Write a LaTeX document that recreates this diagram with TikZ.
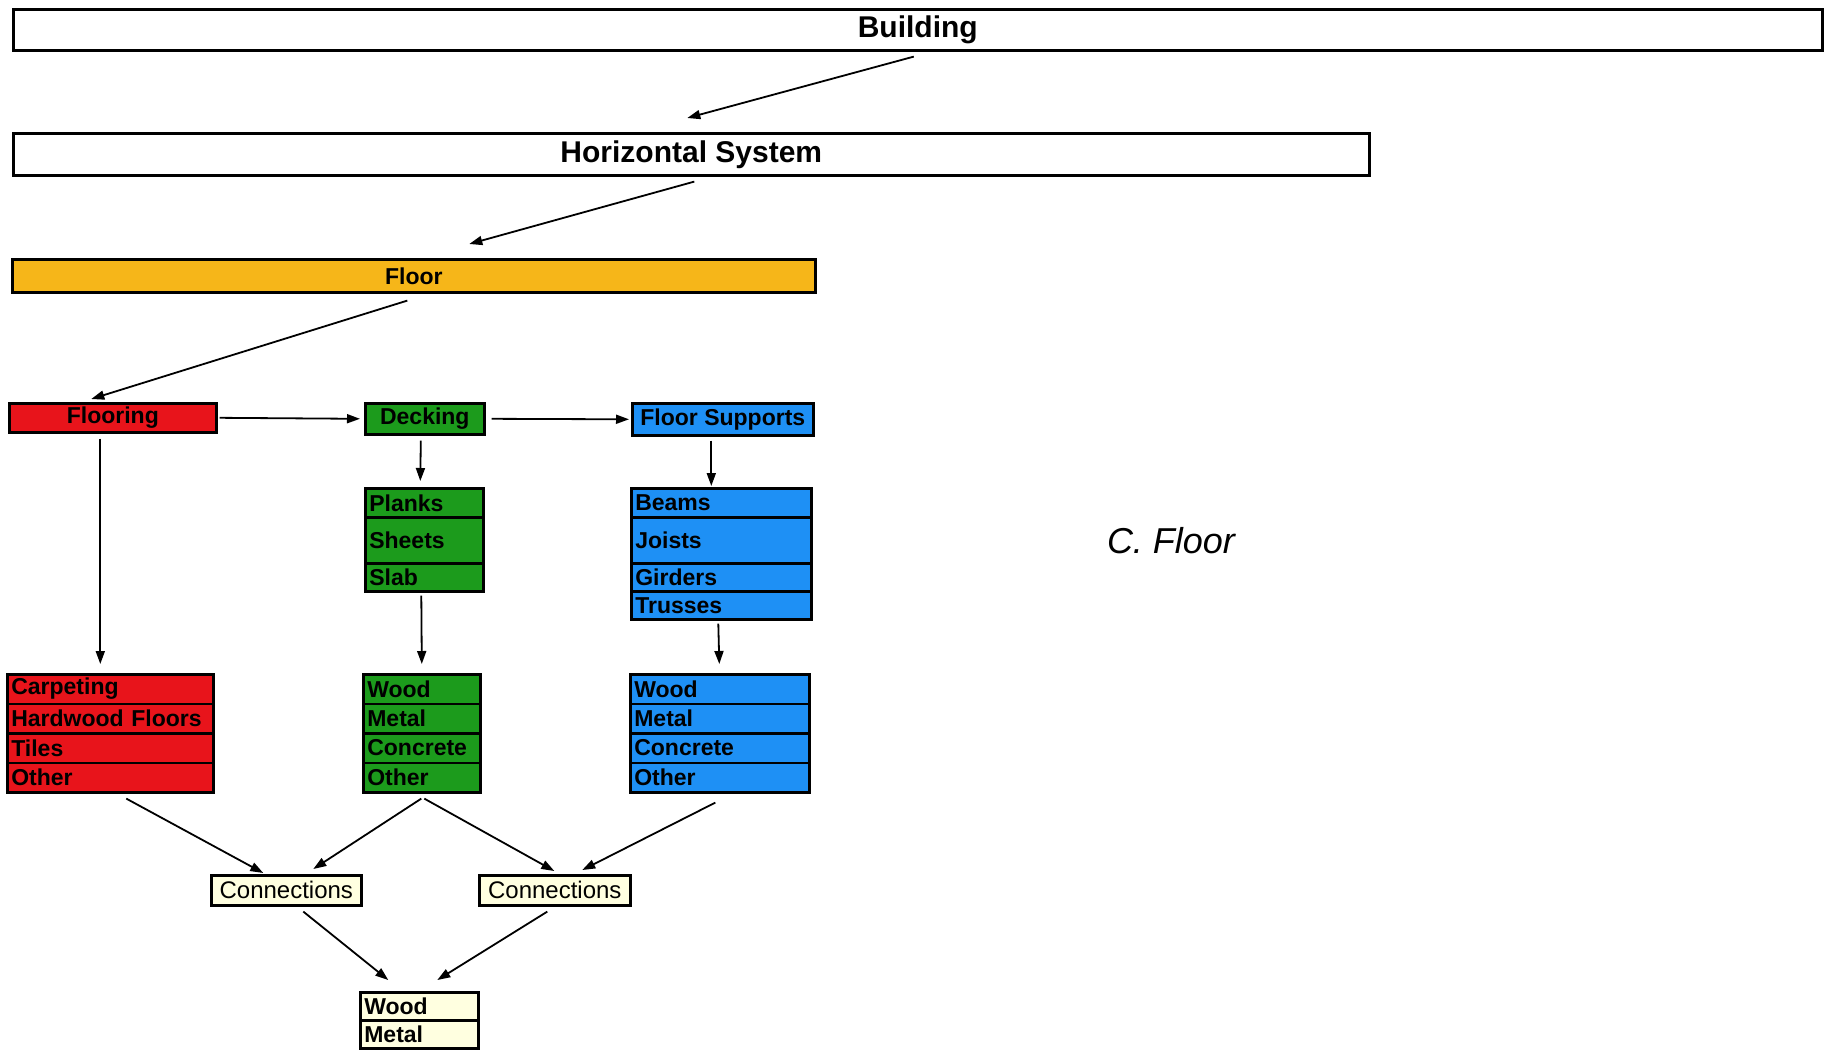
\documentclass[tikz,border=0pt]{standalone}
\usepackage{fontspec}
\setmainfont{Liberation Sans}
\usetikzlibrary{arrows.meta,calc}
\definecolor{cred}{HTML}{E8141B}
\definecolor{cgreen}{HTML}{1C9B1C}
\definecolor{cblue}{HTML}{1E90F5}
\definecolor{corange}{HTML}{F6B619}
\definecolor{cpale}{HTML}{FFFFE0}
\tikzset{
  box/.style={draw=black, line width=2.6pt, anchor=north west, inner sep=0pt,
    font=\fontsize{23}{23}\selectfont\bfseries},
  bigbox/.style={box, font=\fontsize{30}{30}\selectfont\bfseries},
  row/.style 2 args={box, minimum width=#1, text width=#1-8pt, align=left,
    inner xsep=4pt, minimum height=#2},
  arr/.style={line width=1.8pt, -{Triangle[length=13pt,width=9pt]}},
  conn/.style={box, font=\fontsize{24}{24}\selectfont, fill=cpale}
}
\begin{document}
\begin{tikzpicture}[x=1pt,y=-1pt]
\useasboundingbox (0,0) rectangle (1833,1050);
% top levels
\node[bigbox, minimum width=1809, minimum height=41] (building) at (12,8) {Building};
\node[bigbox, minimum width=1356, minimum height=42] (hsys) at (12,132) {Horizontal System};
\node[box, fill=corange, minimum width=803, minimum height=33] (floor) at (11,258) {Floor};
% second level
\node[box, fill=cred, minimum width=207, minimum height=29] (flooring) at (8,402) {Flooring};
\node[box, fill=cgreen, minimum width=119, minimum height=31] (decking) at (364,402) {Decking};
\node[box, fill=cblue, minimum width=181, minimum height=32] (fsup) at (631,402) {Floor Supports};
% decking types
\node[row={118}{29}, fill=cgreen] (planks) at (364,487) {Planks};
\node[row={118}{46}, fill=cgreen] (sheets) at (364,516) {Sheets};
\node[row={118}{28}, fill=cgreen] (slab) at (364,562) {Slab};
% support types
\node[row={180}{29}, fill=cblue] (beams) at (630,487) {Beams};
\node[row={180}{46}, fill=cblue] (joists) at (630,516) {Joists};
\node[row={180}{28}, fill=cblue] (girders) at (630,562) {Girders};
\node[row={180}{28}, fill=cblue] (trusses) at (630,590) {Trusses};
% materials
\node[row={206}{29.5}, fill=cred] (carpet) at (6,673) {Carpeting};
\node[row={206}{29.5}, fill=cred] (hard) at (6,702.5) {Hardwood Floors};
\node[row={206}{29.5}, fill=cred] (tiles) at (6,732) {Tiles};
\node[row={206}{29.5}, fill=cred] (rother) at (6,761.5) {Other};
\node[row={117}{29.5}, fill=cgreen] (gwood) at (362,673) {Wood};
\node[row={117}{29.5}, fill=cgreen] (gmetal) at (362,702.5) {Metal};
\node[row={117}{29.5}, fill=cgreen] (gconc) at (362,732) {Concrete};
\node[row={117}{29.5}, fill=cgreen] (gother) at (362,761.5) {Other};
\node[row={179}{29.5}, fill=cblue] (bwood) at (629,673) {Wood};
\node[row={179}{29.5}, fill=cblue] (bmetal) at (629,702.5) {Metal};
\node[row={179}{29.5}, fill=cblue] (bconc) at (629,732) {Concrete};
\node[row={179}{29.5}, fill=cblue] (bother) at (629,761.5) {Other};
% connections
\node[conn, minimum width=150, minimum height=30] (conn1) at (210,874) {Connections};
\node[conn, minimum width=151, minimum height=30] (conn2) at (478,874) {Connections};
\node[row={118}{28}, fill=cpale] (wwood) at (359,991) {Wood};
\node[row={118}{28}, fill=cpale] (wmetal) at (359,1019) {Metal};
% caption
\node[font=\fontsize{36}{36}\selectfont\itshape] (cap) at (1171,541) {C. Floor};
% connectors
\draw[arr] ($(building.south)+(-4,5)$) -- ($(hsys.north)+(-4,-14)$);
\draw[arr] ($(hsys.south)+(3,5)$) -- ($(floor.north)+(55.5,-14)$);
\draw[arr] ($(floor.south)+(-6.5,7)$) -- ($(flooring.north)+(-21.5,-3)$);
\draw[arr] ($(flooring.east)+(2,0)$) -- ($(decking.west)+(-4,0)$);
\draw[arr] ($(decking.east)+(6,0)$) -- ($(fsup.west)+(-2,0)$);
\draw[arr] ($(decking.south)+(-4,5)$) -- ($(planks.north)+(-4,-6)$);
\draw[arr] ($(fsup.south)+(-11.5,4)$) -- ($(beams.north)+(-10,-1)$);
\draw[arr] ($(flooring.south)+(-12.5,5)$) -- ($(carpet.north)+(-10,-9)$);
\draw[arr] ($(slab.south)+(-3,3)$) -- ($(gwood.north)+(0,-9)$);
\draw[arr] ($(trusses.south)+(-3,3)$) -- ($(bwood.north)+(-0.5,-9)$);
\draw[arr] ($(rother.south)+(16,5)$) -- ($(conn1.north)+(-23,-1)$);
\draw[arr] ($(gother.south)+(-0.5,5)$) -- ($(conn1.north)+(27,-5)$);
\draw[arr] ($(gother.south)+(2.5,5)$) -- ($(conn2.north)+(-0.5,-3)$);
\draw[arr] ($(bother.south)+(-4.5,9)$) -- ($(conn2.north)+(27.5,-4)$);
\draw[arr] ($(conn1.south)+(17,5)$) -- ($(wwood.north)+(-31,-11)$);
\draw[arr] ($(conn2.south)+(-7.5,5)$) -- ($(wwood.north)+(18,-11)$);
\end{tikzpicture}
\end{document}
